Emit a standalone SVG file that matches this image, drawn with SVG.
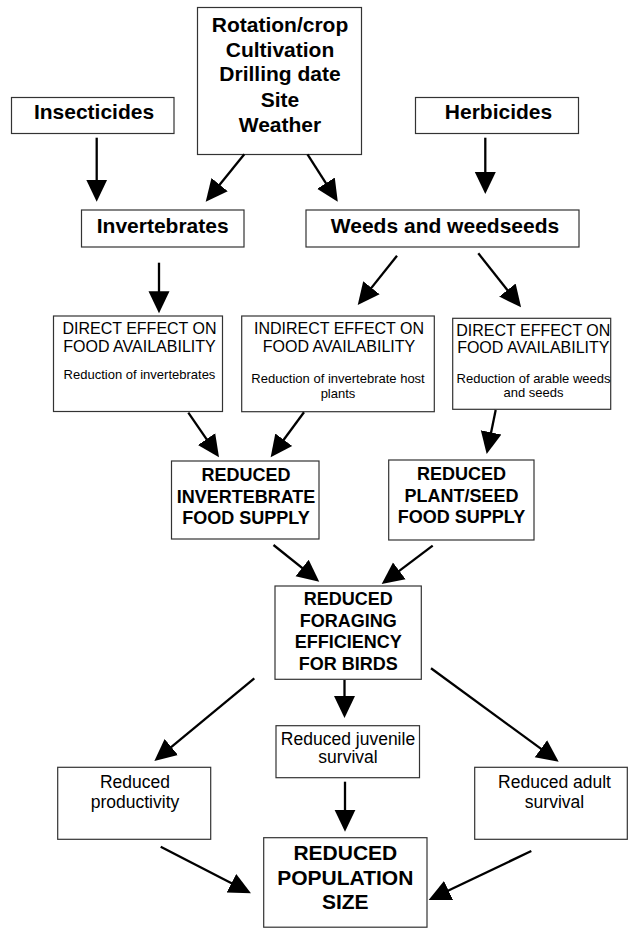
<svg xmlns="http://www.w3.org/2000/svg" width="632" height="939" viewBox="0 0 632 939">
<style>
  .box { fill: #ffffff; stroke: #333333; stroke-width: 1.2; }
  .tb { font-family: "Liberation Sans", Arial, sans-serif; font-weight: bold; font-size: 21px; fill: #000; text-anchor: middle; }
  .mb { font-family: "Liberation Sans", Arial, sans-serif; font-weight: bold; font-size: 18px; fill: #000; text-anchor: middle; }
  .hd { font-family: "Liberation Sans", Arial, sans-serif; font-size: 16px; fill: #000; text-anchor: middle; }
  .sm { font-family: "Liberation Sans", Arial, sans-serif; font-size: 13px; fill: #000; text-anchor: middle; }
  .rg { font-family: "Liberation Sans", Arial, sans-serif; font-size: 17.5px; fill: #000; text-anchor: middle; }
  .conn { stroke: #000; stroke-width: 2.3; fill: none; marker-end: url(#ah); }
</style>
<defs>
  <marker id="ah" markerUnits="userSpaceOnUse" markerWidth="24" markerHeight="24" viewBox="0 -12 24 24" refX="10" refY="0" orient="auto">
    <path d="M0,-10.5 L22,0 L0,10.5 z" fill="#000"/>
  </marker>
</defs>
<rect width="632" height="939" fill="#ffffff"/>

<g id="rotation">
  <rect class="box" x="197.5" y="7.5" width="164" height="147"/>
  <text class="tb" x="280" y="32.3">Rotation/crop</text>
  <text class="tb" x="280" y="56.7">Cultivation</text>
  <text class="tb" x="280" y="81">Drilling date</text>
  <text class="tb" x="280" y="107.3">Site</text>
  <text class="tb" x="280" y="131.7">Weather</text>
</g>
<g id="insecticides">
  <rect class="box" x="11.5" y="97.5" width="162.5" height="36"/>
  <text class="tb" x="94" y="119.3">Insecticides</text>
</g>
<g id="herbicides">
  <rect class="box" x="415.5" y="97.5" width="163" height="36"/>
  <text class="tb" x="498.5" y="119.3">Herbicides</text>
</g>
<g id="invertebrates">
  <rect class="box" x="81.5" y="210" width="162.5" height="37"/>
  <text class="tb" x="162.7" y="233.3">Invertebrates</text>
</g>
<g id="weeds">
  <rect class="box" x="306" y="210" width="273" height="37"/>
  <text class="tb" x="445" y="233.3">Weeds and weedseeds</text>
</g>
<g id="direct-left">
  <rect class="box" x="53.5" y="316" width="169" height="95.5"/>
  <text class="hd" x="139.5" y="334">DIRECT EFFECT ON</text>
  <text class="hd" x="139.5" y="352">FOOD AVAILABILITY</text>
  <text class="sm" x="139.5" y="379.3">Reduction of invertebrates</text>
</g>
<g id="indirect">
  <rect class="box" x="241.7" y="316" width="192.6" height="95.7"/>
  <text class="hd" x="339" y="334.3">INDIRECT EFFECT ON</text>
  <text class="hd" x="339" y="352">FOOD AVAILABILITY</text>
  <text class="sm" x="338" y="383.3">Reduction of invertebrate host</text>
  <text class="sm" x="338" y="398.3">plants</text>
</g>
<g id="direct-right">
  <rect class="box" x="452.7" y="318.3" width="158" height="91"/>
  <text class="hd" x="533.3" y="336">DIRECT EFFECT ON</text>
  <text class="hd" x="533.3" y="353.3">FOOD AVAILABILITY</text>
  <text class="sm" x="533.5" y="383.3">Reduction of arable weeds</text>
  <text class="sm" x="533.5" y="397.3">and seeds</text>
</g>
<g id="reduced-invertebrate">
  <rect class="box" x="171.5" y="461" width="147.5" height="78"/>
  <text class="mb" x="246" y="481">REDUCED</text>
  <text class="mb" x="246" y="502.5">INVERTEBRATE</text>
  <text class="mb" x="246" y="524">FOOD SUPPLY</text>
</g>
<g id="reduced-plant">
  <rect class="box" x="388.7" y="460" width="145.3" height="80"/>
  <text class="mb" x="461.5" y="480">REDUCED</text>
  <text class="mb" x="461.5" y="501.7">PLANT/SEED</text>
  <text class="mb" x="461.5" y="523.3">FOOD SUPPLY</text>
</g>
<g id="foraging">
  <rect class="box" x="275" y="586" width="146.3" height="93.3"/>
  <text class="mb" x="348.2" y="605">REDUCED</text>
  <text class="mb" x="348.2" y="626.7">FORAGING</text>
  <text class="mb" x="348.2" y="648.3">EFFICIENCY</text>
  <text class="mb" x="348.2" y="670">FOR BIRDS</text>
</g>
<g id="juvenile">
  <rect class="box" x="276" y="725.7" width="143.5" height="52"/>
  <text class="rg" x="348" y="744.5">Reduced juvenile</text>
  <text class="rg" x="348" y="763">survival</text>
</g>
<g id="productivity">
  <rect class="box" x="57.7" y="767.3" width="153" height="72"/>
  <text class="rg" x="135" y="787.7">Reduced</text>
  <text class="rg" x="135" y="807.7">productivity</text>
</g>
<g id="adult">
  <rect class="box" x="474.7" y="767.3" width="152.6" height="72"/>
  <text class="rg" x="554.5" y="788.3">Reduced adult</text>
  <text class="rg" x="554.5" y="807.7">survival</text>
</g>
<g id="population">
  <rect class="box" x="263.7" y="837.7" width="163.3" height="89.5"/>
  <text class="tb" x="345.3" y="860">REDUCED</text>
  <text class="tb" x="345.3" y="884.5">POPULATION</text>
  <text class="tb" x="345.3" y="909">SIZE</text>
</g>

<g id="connectors">
  <line class="conn" x1="96.7" y1="137.7" x2="96.7" y2="189.7"/>
  <line class="conn" x1="244.3" y1="154.3" x2="213.3" y2="192.4"/>
  <line class="conn" x1="307.5" y1="154.3" x2="331.3" y2="191.6"/>
  <line class="conn" x1="485.3" y1="137.7" x2="485.3" y2="182"/>
  <line class="conn" x1="159" y1="262.7" x2="159" y2="301.3"/>
  <line class="conn" x1="397" y1="255.7" x2="365.2" y2="295.6"/>
  <line class="conn" x1="478.3" y1="253.3" x2="513.6" y2="297.9"/>
  <line class="conn" x1="188.3" y1="412.7" x2="212.2" y2="447.4"/>
  <line class="conn" x1="304" y1="412.3" x2="277.8" y2="447.7"/>
  <line class="conn" x1="495.7" y1="410" x2="489.1" y2="442.2"/>
  <line class="conn" x1="273.5" y1="545" x2="309.9" y2="574.2"/>
  <line class="conn" x1="432.7" y1="545.7" x2="391.3" y2="576.8"/>
  <line class="conn" x1="254.3" y1="678.3" x2="163.6" y2="753.4"/>
  <line class="conn" x1="344.5" y1="680" x2="344.5" y2="706"/>
  <line class="conn" x1="431" y1="668.3" x2="549" y2="754.6"/>
  <line class="conn" x1="345" y1="781.7" x2="345" y2="819.7"/>
  <line class="conn" x1="160.7" y1="846.7" x2="240.3" y2="887.8"/>
  <line class="conn" x1="531.3" y1="851" x2="439.5" y2="894.8"/>
</g>
</svg>
